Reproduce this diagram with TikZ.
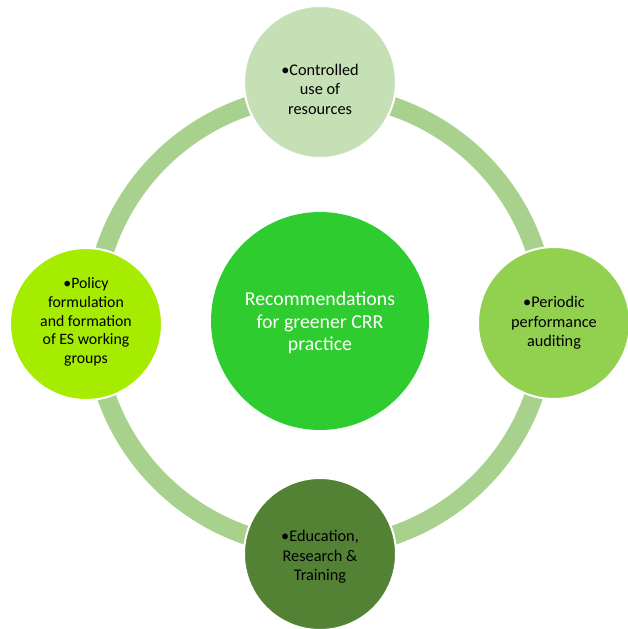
\documentclass[tikz,border=0pt]{standalone}
\usepackage{fontspec}
\setmainfont{Carlito}
\definecolor{ringc}{HTML}{A9D18E}
\definecolor{centc}{HTML}{2ECC2E}
\definecolor{topc}{HTML}{C5E0B4}
\definecolor{rightc}{HTML}{92D050}
\definecolor{leftc}{HTML}{A6EC00}
\definecolor{botc}{HTML}{548235}
\tikzset{
  sat/.style={circle, draw=white, line width=2pt, minimum size=152pt, inner sep=0pt},
  sattext/.style={align=center, text=black, font=\fontsize{16.3}{19.5}\selectfont},
  centre/.style={circle, fill=centc, minimum size=218pt, inner sep=0pt},
}
\begin{document}
\begin{tikzpicture}[x=1pt,y=-1pt]
\useasboundingbox (0,0) rectangle (628,629);
\coordinate (o) at (320,321);
\draw[ringc, line width=19pt] (o) circle (226.5);
\node[sat, fill=topc] (top) at (320,82) {};
\node[sat, fill=leftc] (left) at (86,324) {};
\node[sat, fill=rightc] (right) at (554,323) {};
\node[sat, fill=botc] (bot) at (320,554) {};
\node[centre] (c) at (o) {};
\node[align=center, text=white, font=\fontsize{19.8}{22.5}\selectfont] (ct) at (320,323) {Recommendations\\for greener CRR\\practice};
\node[sattext] (tt) at (320,89) {•Controlled\\use of\\resources};
\node[sattext, font=\fontsize{15.8}{18.7}\selectfont] (lt) at (86,322) {•Policy\\formulation\\and formation\\of ES working\\groups};
\node[sattext] (rt) at (554,323) {•Periodic\\performance\\auditing};
\node[sattext] (bt) at (320,557) {•Education,\\Research \&\\Training};
\end{tikzpicture}
\end{document}
